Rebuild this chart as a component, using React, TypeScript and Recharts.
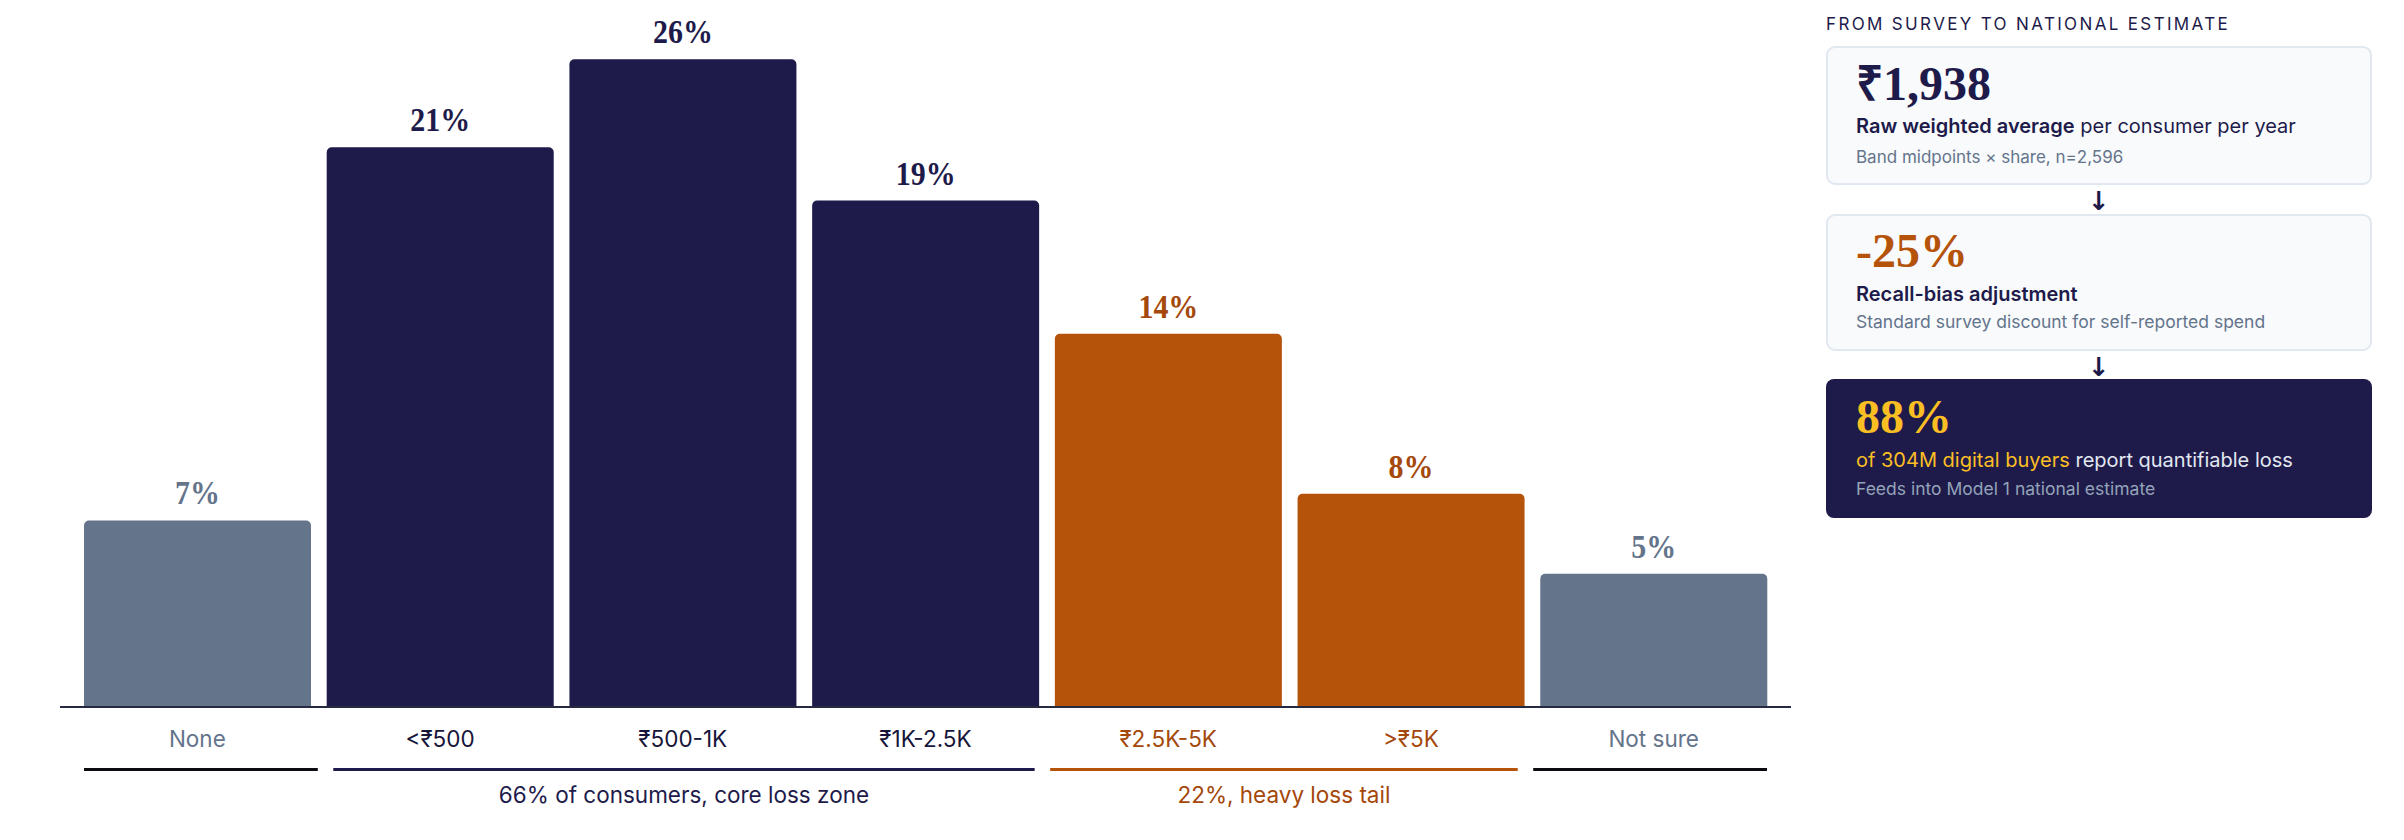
import React from 'react';
import { BarChart, Bar, XAxis, YAxis, Cell, LabelList } from 'recharts';

const categories = ['None', '<₹500', '₹500-1K', '₹1K-2.5K', '₹2.5K-5K', '>₹5K', 'Not sure'];
const barValues = [7, 21, 24.3, 19, 14, 8, 5];
const valueLabels = ['7%', '21%', '26%', '19%', '14%', '8%', '5%'];
const categoryGroup = ['neutral', 'core', 'core', 'core', 'tail', 'tail', 'neutral'];

const groupSpans = [1, 3, 2, 1];
const groupKinds = ['neutralLine', 'core', 'tail', 'neutralLine'];
const groupLabels = ['', '66% of consumers, core loss zone', '22%, heavy loss tail', ''];

const NAVY = '#1E1B4B';
const ORANGE = '#B45309';
const ORANGE_TEXT = '#A4480B';
const SLATE = '#64748B';
const SANS = "Inter, 'Noto Sans', sans-serif";
const SERIF = "'Liberation Serif', 'Times New Roman', serif";
const ARROW_FONT = "'DejaVu Sans', sans-serif";

const barFill: Record<string, string> = { neutral: SLATE, core: NAVY, tail: ORANGE };
const labelFill: Record<string, string> = { neutral: SLATE, core: NAVY, tail: ORANGE_TEXT };
const tickFill: Record<string, string> = { neutral: SLATE, core: '#17153a', tail: ORANGE_TEXT };
const lineFill: Record<string, string> = { neutralLine: '#0b0b10', core: NAVY, tail: ORANGE };
const groupTextFill: Record<string, string> = { neutralLine: '#0b0b10', core: NAVY, tail: ORANGE_TEXT };

const data = categories.map((c, i) => ({ category: c, value: barValues[i], label: valueLabels[i] }));

const CAT_GAP = 8;
const BRACKET_GAP = 15.5;
const AXIS_FONT = 22.5;

const AxisTick = (props: any) => {
  const { x, y, payload, index } = props;
  const i = typeof index === 'number' ? index : categories.indexOf(payload.value);
  const half = payload && payload.offset ? payload.offset : 121.36;
  const g = categoryGroup[i];
  const n = categories.length;
  const firstCenter = x - i * 2 * half;
  const L = firstCenter - half + CAT_GAP;
  const R = firstCenter + (n - 1) * 2 * half + half - CAT_GAP;
  const unit = (R - L - (groupSpans.length - 1) * BRACKET_GAP) / n;
  let start = 0;
  let bracket: any = null;
  for (let gi = 0; gi < groupSpans.length; gi++) {
    if (start === i) {
      const gx = L + start * unit + gi * BRACKET_GAP;
      const gw = groupSpans[gi] * unit;
      const kind = groupKinds[gi];
      bracket = (
        <g>
          <rect x={gx} y={y + 61} width={gw} height={3} fill={lineFill[kind]} />
          {groupLabels[gi] ? (
            <text x={gx + gw / 2} y={y + 96} textAnchor="middle" fontFamily={SANS} fontSize={AXIS_FONT} fill={groupTextFill[kind]}>
              {groupLabels[gi]}
            </text>
          ) : null}
        </g>
      );
    }
    start += groupSpans[gi];
  }
  return (
    <g>
      <text x={x} y={y + 40} textAnchor="middle" fontFamily={SANS} fontSize={AXIS_FONT} fill={tickFill[g]}>
        {payload.value}
      </text>
      {bracket}
    </g>
  );
};

const ValueLabel = (props: any) => {
  const { x, y, width, value, index } = props;
  const i = typeof index === 'number' ? index : valueLabels.indexOf(value);
  const cx = Number(x) + Number(width) / 2;
  return (
    <text
      x={cx}
      y={Number(y) - 16}
      textAnchor="middle"
      fontFamily={SERIF}
      fontWeight={700}
      fontSize={34}
      fill={labelFill[categoryGroup[i]]}
      transform={`translate(${cx},0) scale(0.88,1) translate(${-cx},0)`}
    >
      {value}
    </text>
  );
};

const Panel = () => (
  <svg width={604} height={840} style={{ position: 'absolute', left: 1800, top: 0 }}>
    <text x={26} y={30} fontFamily={SANS} fontSize={17} letterSpacing={2.35} fill={NAVY}>
      FROM SURVEY TO NATIONAL ESTIMATE
    </text>

    <rect x={27} y={47} width={544} height={137} rx={8} fill="#F8FAFC" stroke="#E2E8F0" strokeWidth={2} />
    <text x={56} y={100} fontFamily={SERIF} fontWeight={700} fontSize={48} fill={NAVY}>₹1,938</text>
    <text x={56} y={133} fontFamily={SANS} fontSize={20} fill={NAVY}>
      <tspan fontWeight={600}>Raw weighted average</tspan>
      <tspan> per consumer per year</tspan>
    </text>
    <text x={56} y={163} fontFamily={SANS} fontSize={17} fill={SLATE}>Band midpoints × share, n=2,596</text>

    <text x={299} y={210} textAnchor="middle" fontFamily={ARROW_FONT} fontWeight={700} fontSize={26} fill={NAVY}>↓</text>

    <rect x={27} y={215} width={544} height={135} rx={8} fill="#F8FAFC" stroke="#E2E8F0" strokeWidth={2} />
    <text x={56} y={267} fontFamily={SERIF} fontWeight={700} fontSize={48} fill={ORANGE}>-25%</text>
    <text x={56} y={301} fontFamily={SANS} fontWeight={600} fontSize={20} fill={NAVY}>Recall-bias adjustment</text>
    <text x={56} y={328} fontFamily={SANS} fontSize={17.5} fill={SLATE}>Standard survey discount for self-reported spend</text>

    <text x={299} y={376} textAnchor="middle" fontFamily={ARROW_FONT} fontWeight={700} fontSize={26} fill={NAVY}>↓</text>

    <rect x={26} y={379} width={546} height={139} rx={8} fill={NAVY} />
    <text x={56} y={433} fontFamily={SERIF} fontWeight={700} fontSize={48} fill="#FBBF24">88%</text>
    <text x={56} y={467} fontFamily={SANS} fontSize={20} fill="#E2E8F0">
      <tspan fill="#FBBF24">of 304M digital buyers</tspan>
      <tspan> report quantifiable loss</tspan>
    </text>
    <text x={56} y={495} fontFamily={SANS} fontSize={17.5} fill="#94A3B8">Feeds into Model 1 national estimate</text>
  </svg>
);

export default function App() {
  return (
    <div style={{ position: 'absolute', left: 0, top: 0, width: 2404, height: 840, background: '#FFFFFF' }}>
      <div style={{ position: 'absolute', left: 0, top: 0 }}>
        <BarChart
          width={1800}
          height={840}
          data={data}
          margin={{ top: 14, right: 9, bottom: 0, left: 60 }}
          barCategoryGap={CAT_GAP}
        >
          <XAxis
            dataKey="category"
            type="category"
            interval={0}
            height={133}
            padding={{ left: 16, right: 16 }}
            axisLine={{ stroke: '#252a40', strokeWidth: 2 }}
            tickLine={false}
            tickSize={0}
            tickMargin={0}
            tick={<AxisTick />}
          />
          <YAxis hide domain={[0, 26]} allowDataOverflow={false} />
          <Bar dataKey="value" radius={[5, 5, 0, 0]} isAnimationActive={false}>
            {data.map((d, i) => (
              <Cell key={d.category} fill={barFill[categoryGroup[i]]} />
            ))}
            <LabelList dataKey="label" content={<ValueLabel />} />
          </Bar>
        </BarChart>
      </div>
      <Panel />
    </div>
  );
}
